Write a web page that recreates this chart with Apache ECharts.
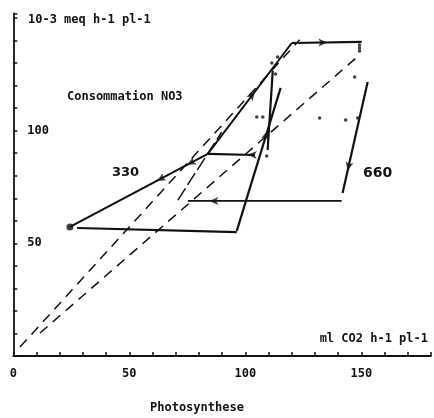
<!DOCTYPE html>
<html>
<head>
<meta charset="utf-8">
<script src="https://cdn.jsdelivr.net/npm/echarts@6/dist/echarts.min.js"></script>
<style>
  html, body { margin: 0; padding: 0; background: #fff; }
  #main { width: 434px; height: 418px; }
</style>
</head>
<body>
<div id="main"></div>
<script>
// values (photosynthesis vs NO3 uptake)
const xTickLabels = [0, 50, 100, 150];
const yTickLabels = [50, 100];

// 330 ppm loop, each segment written in travel order
const seg330Base = [[27.5, 56.8], [96.3, 55.0]];
const seg330Steep = [[96.3, 55.5], [115.2, 119.0]];
const seg330Drop = [[111.8, 126.5], [109.6, 91.4]];
const seg330Return = [[104.1, 89.2], [83.8, 89.7]];
const seg330Fall = [[83.8, 89.7], [24.4, 57.3]];

// 660 ppm loop
const seg660Rise = [[83.8, 89.7], [120.0, 138.9]];
const seg660Top = [[120.0, 138.9], [150.1, 139.4]];
const seg660Fall = [[152.7, 121.6], [141.9, 72.3]];
const seg660Back = [[141.5, 68.8], [75.2, 68.8]];
const seg660Link = [[70.9, 69.2], [89.8, 99.4]];

// dashed ratio lines from the origin
const ratioLine1 = [[2.9, 4.0], [123.4, 140.3]];
const ratioLine2 = [[11.5, 10.2], [149.2, 133.6]];

const startPoint = [[24.4, 57.3]];
const loosePoints = [
  [109.2, 88.8], [111.4, 130.0], [113.9, 132.7], [113.0, 125.2],
  [104.9, 106.1], [107.5, 106.1],
  [132.0, 105.6], [143.2, 104.7], [148.4, 105.6],
  [147.1, 123.8],
  [149.2, 138.0], [149.2, 136.7], [149.2, 135.4]
];

// arrow heads: segment + position along it (0..1)
const arrowMarks = [
  [seg330Steep, 0.7], [seg330Return, 0.15],
  [seg330Fall, 0.15], [seg330Fall, 0.37],
  [seg660Rise, 0.56], [seg660Top, 0.51],
  [seg660Fall, 0.8], [seg660Back, 0.86]
];

const INK = '#111';
const FONT = '"DejaVu Sans Mono", monospace';

function solid(data, width) {
  return {
    type: 'line', data: data, symbol: 'none', silent: true,
    lineStyle: {color: INK, width: width || 2.2}
  };
}
function dashed(data, dash) {
  return {
    type: 'line', data: data, symbol: 'none', silent: true,
    lineStyle: {color: INK, width: 1.5, type: dash || [10, 7]}
  };
}

var myChart = echarts.init(document.getElementById('main'));

var option = {
  backgroundColor: '#fff',
  animation: false,
  grid: {left: 13.3, right: 2.3, top: 13.5, bottom: 62},
  xAxis: {
    type: 'value', min: 0, max: 180, interval: 10,
    splitLine: {show: false},
    axisLine: {onZero: false, lineStyle: {color: INK, width: 1.8}},
    axisTick: {inside: true, length: 4, lineStyle: {color: INK, width: 1.5}},
    axisLabel: {
      margin: 12, color: INK, fontFamily: FONT, fontWeight: 'bold', fontSize: 12,
      formatter: function (v) { return xTickLabels.indexOf(v) >= 0 ? String(v) : ''; }
    }
  },
  yAxis: {
    type: 'value', min: 0, max: 152, interval: 10,
    splitLine: {show: false},
    axisLine: {onZero: false, lineStyle: {color: INK, width: 1.8}},
    axisTick: {inside: true, length: 4, lineStyle: {color: INK, width: 1.5}},
    axisLabel: {
      inside: true, margin: 14, color: INK, fontFamily: FONT, fontWeight: 'bold', fontSize: 12,
      formatter: function (v) { return yTickLabels.indexOf(v) >= 0 ? String(v) : ''; }
    }
  },
  graphic: [
    {type: 'text', left: 28, top: 14, style: {text: '10-3 meq h-1 pl-1', font: 'bold 12px ' + FONT, fill: INK}},
    {type: 'text', left: 67, top: 91, style: {text: 'Consommation NO3', font: 'bold 12px ' + FONT, fill: INK}},
    {type: 'text', left: 112, top: 166, style: {text: '330', font: 'bold 13px "DejaVu Sans", sans-serif', fill: INK}},
    {type: 'text', left: 363, top: 166, style: {text: '660', font: 'bold 14px "DejaVu Sans", sans-serif', fill: INK}},
    {type: 'text', right: 6, top: 333, style: {text: 'ml CO2 h-1 pl-1', font: 'bold 12px ' + FONT, fill: INK}},
    {type: 'text', left: 150, top: 402, style: {text: 'Photosynthese', font: 'bold 12px ' + FONT, fill: INK}}
  ],
  series: [
    dashed(ratioLine1),
    dashed(ratioLine2),
    dashed(seg660Link, [14, 4]),
    solid(seg330Base),
    solid(seg330Steep),
    solid(seg330Drop),
    solid(seg330Return),
    solid(seg330Fall),
    solid(seg660Rise, 2),
    solid(seg660Top),
    solid(seg660Fall),
    solid(seg660Back, 1.8),
    {type: 'scatter', data: startPoint, symbolSize: 7, itemStyle: {color: INK}, silent: true},
    {type: 'scatter', data: loosePoints, symbolSize: 3.5, itemStyle: {color: INK}, silent: true}
  ]
};
myChart.setOption(option);

// arrow heads need pixel direction, so place them after the axes exist
var arrowData = arrowMarks.map(function (m) {
  var a = m[0][0], b = m[0][1], t = m[1];
  var p = [a[0] + (b[0] - a[0]) * t, a[1] + (b[1] - a[1]) * t];
  var pa = myChart.convertToPixel({gridIndex: 0}, a);
  var pb = myChart.convertToPixel({gridIndex: 0}, b);
  var ang = Math.atan2(-(pb[1] - pa[1]), pb[0] - pa[0]) * 180 / Math.PI;
  return {value: p, symbolRotate: ang - 90};
});
option.series.push({
  type: 'scatter', data: arrowData, symbol: 'arrow', symbolSize: [6, 9],
  itemStyle: {color: INK}, silent: true
});
myChart.setOption(option);
</script>
</body>
</html>
